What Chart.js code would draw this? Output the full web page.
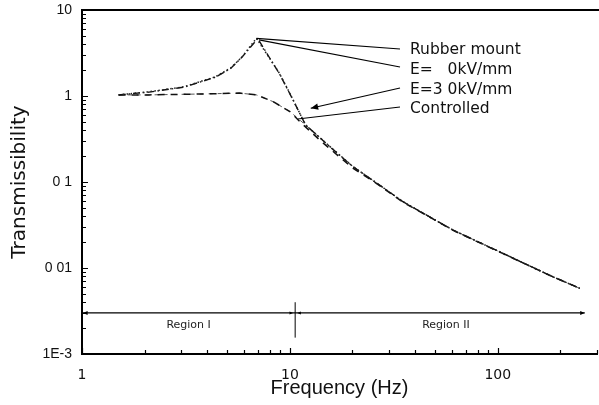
<!DOCTYPE html>
<html>
<head>
<meta charset="utf-8">
<script src="https://cdn.jsdelivr.net/npm/chart.js@4"></script>
<style>
  html, body { margin: 0; padding: 0; background: #fff; }
  canvas { display: block; }
</style>
</head>
<body>
<canvas id="transChart" width="599" height="405"></canvas>
<script>
// values (frequency in Hz, transmissibility)
const rubberFreq = [1.5, 2.1, 3.1, 4.4, 5.2, 5.9, 6.9, 8.9, 10, 11.9, 15.9, 20, 27, 35, 47, 61, 82, 106, 143, 184, 248];
const rubberT    = [1.03, 1.12, 1.28, 1.68, 2.12, 2.87, 4.69, 1.84, 1.07, 0.46, 0.247, 0.153, 0.092, 0.059, 0.0393, 0.0275, 0.0197, 0.0148, 0.0105, 0.0079, 0.0058];

const e0Freq = [1.5, 2.1, 3.1, 4.4, 5.2, 5.9, 7.0, 8.9, 10, 11.9, 15.9, 20, 27, 35, 47, 61, 82, 106, 143, 184, 248];
const e0T    = [1.03, 1.11, 1.27, 1.66, 2.1, 2.85, 4.65, 1.82, 1.06, 0.46, 0.246, 0.152, 0.092, 0.059, 0.0393, 0.0276, 0.0197, 0.0148, 0.0105, 0.0079, 0.0058];

const e3Freq = [1.5, 2.1, 3.7, 5.75, 6.9, 8.3, 10, 11.4, 14.2, 20, 27, 35, 47, 61, 82, 106, 143, 184, 248];
const e3T    = [1.03, 1.03, 1.055, 1.08, 1.03, 0.86, 0.66, 0.48, 0.294, 0.146, 0.091, 0.058, 0.0392, 0.0274, 0.0196, 0.0147, 0.0105, 0.0079, 0.0058];

const ctrlFreq = [1.5, 2.1, 3.7, 5.75, 6.9, 8.3, 10, 11.9, 15.9, 20, 27, 35, 47, 61, 82, 106, 143, 184, 248];
const ctrlT    = [1.03, 1.03, 1.055, 1.08, 1.03, 0.86, 0.66, 0.46, 0.247, 0.153, 0.092, 0.059, 0.0393, 0.0275, 0.0197, 0.0148, 0.0105, 0.0079, 0.0058];

const xTickValues = [1, 10, 100];
const xTickLabels = ["1", "10", "100"];
const yTickValues = [0.001, 0.01, 0.1, 1, 10];
const yTickLabels = ["1E-3", "0 01", "0 1", "1", "10"];

// callout labels and the point each leader line goes to (data units)
const calloutText = ["Rubber mount", "E=   0kV/mm", "E=3 0kV/mm", "Controlled"];
const calloutFreq = [6.9, 7.1, 12.6, 10.9];
const calloutT    = [4.69, 4.5, 0.72, 0.54];

// region bar along the bottom
const regionEdges = [1, 10.6, 262];
const regionLevel = 0.003;
const regionDivider = [0.00155, 0.004];
const regionNames = ["Region I", "Region II"];

const pts = (fs, vs) => fs.map((f, i) => ({ x: f, y: vs[i] }));

function arrowHead(ctx, x0, y0, x1, y1, size) {
    const a = Math.atan2(y1 - y0, x1 - x0);
    ctx.beginPath();
    ctx.moveTo(x1, y1);
    ctx.lineTo(x1 - size * Math.cos(a - 0.4), y1 - size * Math.sin(a - 0.4));
    ctx.lineTo(x1 - size * Math.cos(a + 0.4), y1 - size * Math.sin(a + 0.4));
    ctx.closePath();
    ctx.fill();
}

const overlay = {
    id: "overlay",
    afterDraw(chart) {
        const { ctx, chartArea: a } = chart;
        const x = chart.scales.x, y = chart.scales.y;
        ctx.save();
        ctx.strokeStyle = "#000";
        ctx.fillStyle = "#000";

        // top frame line
        ctx.lineWidth = 2;
        ctx.beginPath();
        ctx.moveTo(a.left - 1, a.top);
        ctx.lineTo(chart.width, a.top);
        ctx.stroke();

        // inward tick marks
        ctx.lineWidth = 1.2;
        ctx.beginPath();
        for (let e = -3; e <= 0; e++) {
            for (let m = 1; m <= 9; m++) {
                const py = Math.round(y.getPixelForValue(m * Math.pow(10, e))) + 0.5;
                const len = m === 1 ? 6 : 4;
                ctx.moveTo(a.left, py);
                ctx.lineTo(a.left + len, py);
            }
        }
        for (let e = 0; e <= 2; e++) {
            for (let m = 1; m <= 9; m++) {
                const v = m * Math.pow(10, e);
                if (v > x.max) break;
                const px = Math.round(x.getPixelForValue(v)) + 0.5;
                const len = m === 1 ? 6 : 4;
                ctx.moveTo(px, a.bottom);
                ctx.lineTo(px, a.bottom - len);
            }
        }
        ctx.stroke();

        // region bar
        const ry = y.getPixelForValue(regionLevel);
        const rx0 = x.getPixelForValue(regionEdges[0]);
        const rx1 = x.getPixelForValue(regionEdges[1]);
        const rx2 = x.getPixelForValue(regionEdges[2]);
        ctx.lineWidth = 1.3;
        ctx.beginPath();
        ctx.moveTo(rx0, ry);
        ctx.lineTo(rx2, ry);
        ctx.stroke();
        ctx.lineWidth = 1;
        ctx.beginPath();
        ctx.moveTo(rx1, y.getPixelForValue(regionDivider[1]));
        ctx.lineTo(rx1, y.getPixelForValue(regionDivider[0]));
        ctx.stroke();
        arrowHead(ctx, rx0 + 10, ry, rx0 + 1, ry, 5);
        arrowHead(ctx, rx1 - 12, ry, rx1 - 2, ry, 4);
        arrowHead(ctx, rx1 + 12, ry, rx1 + 2, ry, 4);
        arrowHead(ctx, rx2 - 10, ry, rx2, ry, 5);

        ctx.font = '11px "DejaVu Sans"';
        ctx.textAlign = "center";
        ctx.textBaseline = "middle";
        ctx.fillStyle = "#222";
        ctx.fillText(regionNames[0], (rx0 + rx1) / 2, ry + 12);
        ctx.fillText(regionNames[1], (rx1 + rx2) / 2 + 6, ry + 12);

        // callouts with leader lines
        const textX = 410;
        const textY = [50, 70, 90, 109];
        const lineEndY = [49, 67, 88, 107];
        ctx.fillStyle = "#000";
        ctx.lineWidth = 1.2;
        calloutText.forEach((t, i) => {
            const px = x.getPixelForValue(calloutFreq[i]);
            const py = y.getPixelForValue(calloutT[i]);
            ctx.beginPath();
            ctx.moveTo(400, lineEndY[i]);
            ctx.lineTo(px, py);
            ctx.stroke();
            if (i === 2) arrowHead(ctx, 400, lineEndY[i], px, py, 8);
        });
        ctx.font = '15.5px "DejaVu Sans"';
        ctx.textAlign = "left";
        ctx.textBaseline = "middle";
        ctx.fillStyle = "#111";
        calloutText.forEach((t, i) => ctx.fillText(t, textX, textY[i]));

        ctx.restore();
    }
};

new Chart(document.getElementById("transChart"), {
    type: "line",
    data: {
        datasets: [{
            label: calloutText[0],
            data: pts(rubberFreq, rubberT),
            borderColor: "#222",
            borderWidth: 1.5,
            borderDash: [1.5, 2.5]
        }, {
            label: calloutText[1],
            data: pts(e0Freq, e0T),
            borderColor: "#111",
            borderWidth: 1.4,
            borderDash: [7, 3, 1.5, 3]
        }, {
            label: calloutText[2],
            data: pts(e3Freq, e3T),
            borderColor: "#111",
            borderWidth: 1.5,
            borderDash: [7, 6]
        }, {
            label: calloutText[3],
            data: pts(ctrlFreq, ctrlT),
            borderColor: "#555",
            borderWidth: 1,
            borderDash: [4, 5]
        }]
    },
    options: {
        responsive: false,
        animation: false,
        layout: { padding: { top: 10, right: 2, left: 0, bottom: 0 } },
        elements: { point: { radius: 0 }, line: { tension: 0, fill: false } },
        plugins: {
            legend: { display: false },
            tooltip: { enabled: false }
        },
        scales: {
            x: {
                type: "logarithmic",
                min: 1,
                max: 300,
                afterFit: s => { s.height = 51; },
                afterBuildTicks: s => { s.ticks = xTickValues.map(v => ({ value: v })); },
                grid: { display: false },
                border: { display: true, color: "#000", width: 2 },
                ticks: {
                    padding: 5,
                    color: "#111",
                    font: { family: "DejaVu Sans", size: 14 },
                    autoSkip: false,
                    maxRotation: 0,
                    callback: v => xTickLabels[xTickValues.indexOf(v)] ?? ""
                },
                title: {
                    display: true,
                    text: "Frequency (Hz)",
                    color: "#111",
                    font: { family: "Liberation Sans", size: 20 },
                    padding: { top: 0, bottom: 5 }
                }
            },
            y: {
                type: "logarithmic",
                min: 0.001,
                max: 10,
                afterFit: s => { s.width = 82; s.paddingTop = 0; s.paddingBottom = 0; },
                afterBuildTicks: s => { s.ticks = yTickValues.map(v => ({ value: v })); },
                grid: { display: false },
                border: { display: true, color: "#000", width: 2 },
                ticks: {
                    padding: 2,
                    color: "#111",
                    font: { family: "Liberation Sans", size: 14 },
                    autoSkip: false,
                    callback: v => yTickLabels[yTickValues.indexOf(v)] ?? ""
                },
                title: {
                    display: true,
                    text: "Transmissibility",
                    color: "#111",
                    font: { family: "DejaVu Sans", size: 20 },
                    padding: { top: 8, bottom: 0 }
                }
            }
        }
    },
    plugins: [overlay]
});
</script>
</body>
</html>
